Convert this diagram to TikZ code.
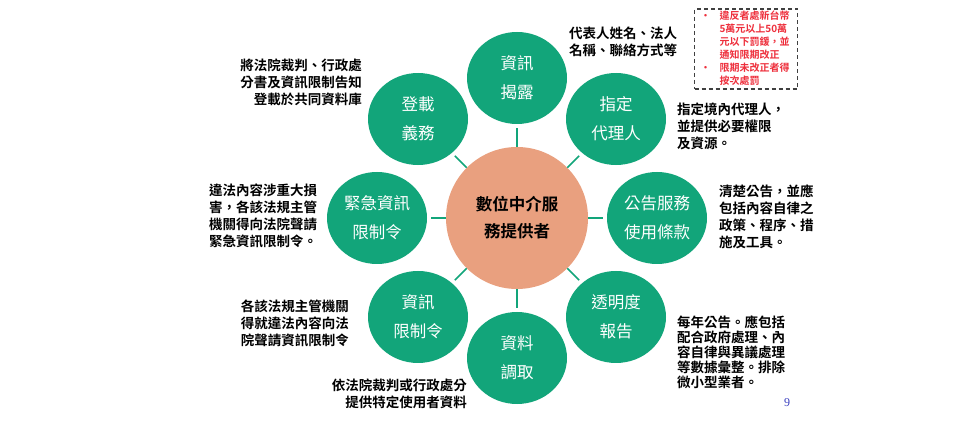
\documentclass[tikz,border=0pt]{standalone}
\usepackage{fontspec}
\setmainfont{Noto Sans CJK TC}[BoldFont=* Bold]
\newfontfamily\pagefont{Liberation Serif}
\usepackage{tikz}
\usetikzlibrary{positioning,calc,shapes.geometric}
\definecolor{dgreen}{HTML}{12A57A}
\definecolor{dsalmon}{HTML}{E9A07F}
\definecolor{dred}{HTML}{EE2F3C}
\definecolor{dgray}{HTML}{404040}
\definecolor{dblue}{HTML}{3A3FC0}

\begin{document}
\begin{tikzpicture}[x=1pt,y=1pt,
    sat/.style={ellipse,fill=dgreen,text=white,minimum width=100pt,
                minimum height=92pt,inner sep=0pt,align=center,
                font=\fontsize{16.5}{29}\selectfont},
    hubnode/.style={circle,fill=dsalmon,minimum size=142pt,inner sep=0pt,
                align=center,font=\fontsize{16.5}{27}\selectfont\bfseries},
    note/.style={inner sep=0pt,font=\fontsize{13.5}{17}\selectfont\bfseries},
    spoke/.style={dgreen,line width=1.5pt,shorten >=4pt},
    warnbox/.style={draw=dgray,line width=1.6pt,dash pattern=on 4pt off 3pt,
                minimum width=103pt,minimum height=80pt,inner sep=0pt,
                text=dred,font=\fontsize{10}{13}\selectfont\bfseries}]
  \useasboundingbox[fill=white] (0,0) rectangle (960,420);

  % hub and ring
  \node[hubnode] (hub) at (517,202) {數位中介服\\務提供者};
  \node[sat] (info)   at ($(hub)+(90:140)$)   {資訊\\揭露};
  \node[sat] (agent)  at ($(hub)+(45:140)$)   {指定\\代理人};
  \node[sat] (terms)  at ($(hub)+(0:140)$)    {公告服務\\使用條款};
  \node[sat] (report) at ($(hub)+(-45:140)$)  {透明度\\報告};
  \node[sat] (data)   at ($(hub)+(-90:140)$)  {資料\\調取};
  \node[sat] (limit)  at ($(hub)+(-135:140)$) {資訊\\限制令};
  \node[sat] (urgent) at ($(hub)+(180:140)$)  {緊急資訊\\限制令};
  \node[sat] (post)   at ($(hub)+(135:140)$)  {登載\\義務};

  \draw[spoke] (hub) -- (info);
  \draw[spoke] (hub) -- (agent);
  \draw[spoke] (hub) -- (terms);
  \draw[spoke] (hub) -- (report);
  \draw[spoke] (hub) -- (data);
  \draw[spoke] (hub) -- (limit);
  \draw[spoke] (hub) -- (urgent);
  \draw[spoke] (hub) -- (post);

  % notes
  \node[note,anchor=west,align=left] (infonote) at (569,378)
    {代表人姓名、法人\\名稱、聯絡方式等};
  \node[note,anchor=east,align=right] (postnote) at (362,338)
    {將法院裁判、行政處\\分書及資訊限制告知\\登載於共同資料庫};
  \node[note,anchor=west,align=left] (agentnote) at (677,294)
    {指定境內代理人，\\並提供必要權限\\及資源。};
  \node[note,anchor=west,align=left] (urgentnote) at (209,204)
    {違法內容涉重大損\\害，各該法規主管\\機關得向法院聲請\\緊急資訊限制令。};
  \node[note,anchor=west,align=left] (termsnote) at (719,203)
    {清楚公告，並應\\包括內容自律之\\政策、程序、措\\施及工具。};
  \node[note,anchor=east,align=right] (limitnote) at (349,97)
    {各該法規主管機關\\得就違法內容向法\\院聲請資訊限制令};
  \node[note,anchor=west,align=left,font=\fontsize{13.5}{15}\selectfont\bfseries]
    (reportnote) at (677,68)
    {每年公告。應包括\\配合政府處理、內\\容自律與異議處理\\等數據彙整。排除\\微小型業者。};
  \node[note,anchor=east,align=right] (datanote) at (467,26)
    {依法院裁判或行政處分\\提供特定使用者資料};

  \node[warnbox] (warn) at (746,371) {%
    \begin{tabular}{@{}p{19pt}@{}p{72pt}@{}}
      •&違反者處新台幣\\
       &5萬元以上50萬\\
       &元以下罰鍰，並\\
       &通知限期改正\\
      •&限期未改正者得\\
       &按次處罰
    \end{tabular}};

  \node[text=dblue,font=\pagefont\fontsize{12}{14}\selectfont] (pagenum)
    at (787,17) {9};
\end{tikzpicture}
\end{document}
